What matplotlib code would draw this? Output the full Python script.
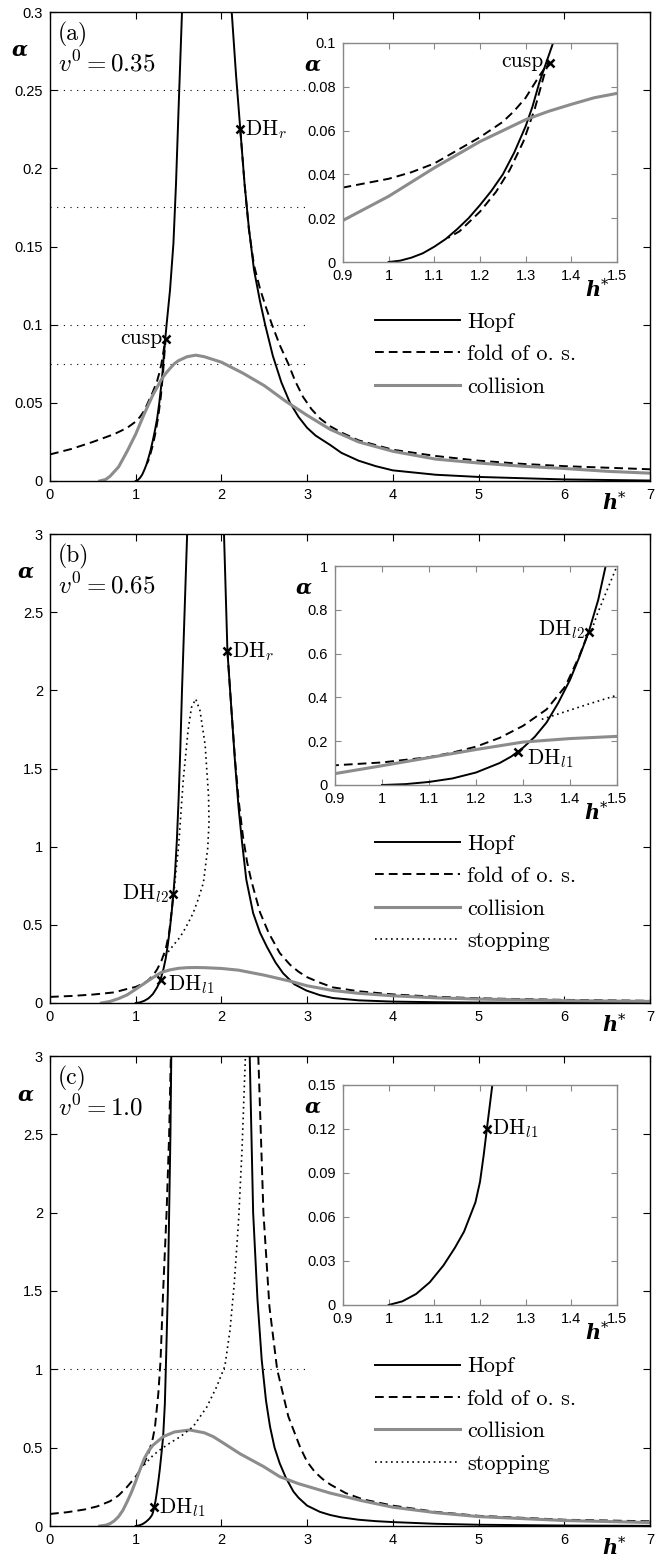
import matplotlib
matplotlib.use('Agg')
import matplotlib.pyplot as plt

plt.rcParams['font.family'] = 'Liberation Sans'
plt.rcParams['mathtext.fontset'] = 'cm'
plt.rcParams['axes.formatter.use_mathtext'] = True

W, H = 661, 1559
GRAY = '#8c8c8c'
SERIF = 'cmr10'

# ---------------- panel (a), v0 = 0.35 ----------------
hopf_a_left_h = [1.0, 1.025, 1.05, 1.075, 1.1, 1.125, 1.15, 1.175, 1.2, 1.225, 1.25, 1.275, 1.3, 1.315, 1.33, 1.345, 1.36, 1.4, 1.44, 1.47, 1.5, 1.54]
hopf_a_left_al = [0.0, 0.0006, 0.002, 0.004, 0.007, 0.0105, 0.015, 0.02, 0.026, 0.0325, 0.04, 0.05, 0.062, 0.071, 0.082, 0.091, 0.1, 0.122, 0.152, 0.19, 0.238, 0.3]
hopf_a_right_h = [2.12, 2.17, 2.22, 2.27, 2.32, 2.38, 2.45, 2.51, 2.6, 2.7, 2.8, 2.9, 3.0, 3.1, 3.27, 3.4, 3.6, 3.8, 4.0, 4.5, 5.0, 6.0, 7.0]
hopf_a_right_al = [0.3, 0.26, 0.225, 0.19, 0.162, 0.135, 0.115, 0.1, 0.08, 0.063, 0.05, 0.041, 0.034, 0.029, 0.023, 0.018, 0.013, 0.0095, 0.0068, 0.004, 0.0026, 0.001, 0.0003]
fold_a_left_h = [0.0, 0.25, 0.5, 0.75, 0.9, 1.0, 1.05, 1.1, 1.15, 1.2, 1.25, 1.275, 1.3, 1.315, 1.33, 1.35,
                 1.34, 1.32, 1.295, 1.265, 1.235, 1.2, 1.175, 1.155, 1.13]
fold_a_left_al = [0.017, 0.0205, 0.025, 0.03, 0.034, 0.038, 0.041, 0.045, 0.051, 0.057, 0.064, 0.069, 0.075, 0.08, 0.085, 0.091,
                  0.085, 0.07, 0.055, 0.042, 0.032, 0.023, 0.018, 0.014, 0.011]
fold_a_right_h = [2.22, 2.27, 2.32, 2.38, 2.45, 2.52, 2.59, 2.68, 2.78, 2.86, 2.95, 3.05, 3.15, 3.27, 3.4, 3.6, 3.8, 4.0, 4.5, 5.0, 5.5, 6.0, 7.0]
fold_a_right_al = [0.225, 0.19, 0.161, 0.138, 0.123, 0.111, 0.1, 0.087, 0.075, 0.064, 0.054, 0.046, 0.04, 0.035, 0.031, 0.026, 0.023, 0.02, 0.016, 0.013, 0.011, 0.0095, 0.0075]
coll_a_h = [0.58, 0.65, 0.7, 0.8, 0.9, 0.95, 1.0, 1.05, 1.1, 1.15, 1.2, 1.25, 1.3, 1.35, 1.4, 1.45, 1.5, 1.6, 1.7, 1.8, 2.0, 2.25, 2.5, 2.75, 3.0, 3.27, 3.6, 4.0, 4.5, 5.0, 5.5, 6.0, 6.5, 7.0]
coll_a_al = [0.0, 0.001, 0.003, 0.009, 0.019, 0.0245, 0.03, 0.0365, 0.043, 0.049, 0.055, 0.06, 0.065, 0.0688, 0.072, 0.075, 0.077, 0.0795, 0.0805, 0.0795, 0.076, 0.069, 0.061, 0.051, 0.042, 0.033, 0.025, 0.019, 0.014, 0.0115, 0.0095, 0.008, 0.0062, 0.005]
guides_a = [0.25, 0.175, 0.1, 0.075]
marks_a = [(1.35, 0.091, 'cusp'), (2.22, 0.225, r'$\mathrm{DH}_r$')]
inset_marks_a = [(1.353, 0.091, 'cusp')]

# ---------------- panel (b), v0 = 0.65 ----------------
hopf_b_left_h = [1.0, 1.05, 1.1, 1.15, 1.2, 1.25, 1.275, 1.3, 1.325, 1.35, 1.375, 1.4, 1.42, 1.44, 1.46, 1.48, 1.5, 1.52, 1.54, 1.57, 1.6]
hopf_b_left_al = [0.0, 0.004, 0.014, 0.03, 0.057, 0.1, 0.13, 0.17, 0.22, 0.285, 0.375, 0.48, 0.585, 0.7, 0.845, 1.04, 1.3, 1.62, 2.0, 2.5, 3.0]
hopf_b_right_h = [2.03, 2.07, 2.12, 2.16, 2.2, 2.24, 2.29, 2.37, 2.45, 2.53, 2.63, 2.72, 2.85, 2.99, 3.15, 3.3, 3.6, 4.0, 4.5, 5.0, 6.0, 7.0]
hopf_b_right_al = [3.0, 2.25, 1.85, 1.53, 1.25, 1.03, 0.79, 0.575, 0.45, 0.36, 0.26, 0.19, 0.12, 0.08, 0.05, 0.032, 0.017, 0.009, 0.005, 0.003, 0.001, 0.0]
fold_b_left_h = [0.0, 0.25, 0.5, 0.75, 0.9, 1.0, 1.1, 1.15, 1.2, 1.25, 1.3, 1.35, 1.39, 1.42, 1.44]
fold_b_left_al = [0.039, 0.045, 0.054, 0.068, 0.09, 0.103, 0.127, 0.148, 0.175, 0.215, 0.27, 0.345, 0.45, 0.59, 0.7]
fold_b_right_h = [2.07, 2.12, 2.16, 2.2, 2.25, 2.3, 2.35, 2.45, 2.55, 2.68, 2.8, 2.9, 3.0, 3.15, 3.3, 3.6, 4.0, 4.5, 5.0, 6.0, 7.0]
fold_b_right_al = [2.25, 1.85, 1.55, 1.3, 1.07, 0.9, 0.78, 0.58, 0.45, 0.32, 0.245, 0.2, 0.165, 0.13, 0.1, 0.075, 0.055, 0.04, 0.03, 0.02, 0.014]
coll_b_h = [0.6, 0.7, 0.8, 0.9, 1.0, 1.1, 1.2, 1.3, 1.4, 1.5, 1.6, 1.7, 1.8, 2.0, 2.2, 2.5, 2.8, 3.0, 3.3, 3.6, 4.0, 4.5, 5.0, 6.0, 7.0]
coll_b_al = [0.0, 0.01, 0.028, 0.052, 0.088, 0.125, 0.162, 0.196, 0.212, 0.222, 0.226, 0.227, 0.226, 0.221, 0.21, 0.178, 0.14, 0.11, 0.08, 0.062, 0.046, 0.033, 0.025, 0.015, 0.01]
stop_b_h = [1.34, 1.44, 1.5, 1.55, 1.61, 1.67, 1.73, 1.79, 1.84, 1.855, 1.85, 1.81, 1.75, 1.7, 1.65, 1.61, 1.555, 1.5, 1.475, 1.458, 1.445]
stop_b_al = [0.3, 0.37, 0.41, 0.45, 0.51, 0.575, 0.665, 0.77, 0.99, 1.15, 1.32, 1.65, 1.87, 1.945, 1.89, 1.74, 1.43, 1.0, 0.87, 0.78, 0.7]
marks_b = [(2.07, 2.25, r'$\mathrm{DH}_r$'), (1.44, 0.7, r'$\mathrm{DH}_{l2}$'), (1.3, 0.15, r'$\mathrm{DH}_{l1}$')]
inset_marks_b = [(1.44, 0.7, r'$\mathrm{DH}_{l2}$'), (1.29, 0.15, r'$\mathrm{DH}_{l1}$')]

# ---------------- panel (c), v0 = 1.0 ----------------
hopf_c_left_h = [1.0, 1.03, 1.06, 1.09, 1.12, 1.145, 1.165, 1.18, 1.19, 1.2, 1.208, 1.215, 1.223, 1.231, 1.245, 1.265, 1.28, 1.3, 1.32, 1.34, 1.354, 1.375, 1.39, 1.405, 1.415]
hopf_c_left_al = [0.0, 0.0025, 0.0075, 0.0155, 0.027, 0.039, 0.05, 0.062, 0.07, 0.084, 0.102, 0.12, 0.14, 0.16, 0.21, 0.29, 0.357, 0.46, 0.57, 0.78, 1.06, 1.5, 2.0, 2.5, 3.0]
hopf_c_right_h = [2.33, 2.37, 2.42, 2.47, 2.52, 2.567, 2.62, 2.68, 2.75, 2.84, 2.9, 3.0, 3.15, 3.27, 3.4, 3.6, 3.8, 4.0, 4.5, 5.0, 6.0, 7.0]
hopf_c_right_al = [3.0, 2.0, 1.45, 1.06, 0.8, 0.634, 0.5, 0.4, 0.31, 0.22, 0.18, 0.13, 0.09, 0.07, 0.055, 0.04, 0.031, 0.025, 0.014, 0.008, 0.003, 0.001]
fold_c_left_h = [0.0, 0.2, 0.4, 0.55, 0.7, 0.8, 0.9, 1.0, 1.08, 1.15, 1.2, 1.225, 1.264, 1.29, 1.32, 1.36, 1.39, 1.41]
fold_c_left_al = [0.077, 0.088, 0.105, 0.125, 0.158, 0.195, 0.25, 0.315, 0.38, 0.464, 0.56, 0.634, 0.847, 1.06, 1.5, 2.0, 2.5, 3.0]
fold_c_right_h = [2.43, 2.49, 2.56, 2.65, 2.78, 2.92, 3.0, 3.09, 3.18, 3.27, 3.45, 3.65, 4.0, 4.5, 5.0, 6.0, 7.0]
fold_c_right_al = [3.0, 2.0, 1.4, 1.0, 0.7, 0.5, 0.41, 0.345, 0.3, 0.265, 0.21, 0.17, 0.13, 0.09, 0.065, 0.04, 0.03]
coll_c_h = [0.58, 0.65, 0.7, 0.75, 0.8, 0.85, 0.9, 0.95, 1.0, 1.05, 1.1, 1.15, 1.2, 1.32, 1.45, 1.63, 1.8, 1.906, 2.05, 2.22, 2.49, 2.68, 2.9, 3.27, 3.65, 4.0, 4.5, 5.0, 6.0, 7.0]
coll_c_al = [0.0, 0.005, 0.015, 0.033, 0.06, 0.1, 0.155, 0.215, 0.285, 0.36, 0.43, 0.48, 0.515, 0.57, 0.6, 0.613, 0.595, 0.57, 0.52, 0.46, 0.38, 0.315, 0.27, 0.21, 0.16, 0.12, 0.085, 0.06, 0.035, 0.022]
stop_c_h = [1.1, 1.2, 1.28, 1.4, 1.52, 1.67, 1.83, 1.945, 2.04, 2.1, 2.15, 2.2, 2.24, 2.28]
stop_c_al = [0.39, 0.45, 0.485, 0.53, 0.57, 0.634, 0.76, 0.89, 1.02, 1.25, 1.55, 1.95, 2.4, 3.0]
guides_c = [1.0]
marks_c = [(1.215, 0.12, r'$\mathrm{DH}_{l1}$')]
inset_marks_c = [(1.215, 0.12, r'$\mathrm{DH}_{l1}$')]

# ---------------- ticks ----------------
main_xticks = [0, 1, 2, 3, 4, 5, 6, 7]
main_xlabels = ['0', '1', '2', '3', '4', '5', '6', '7']
yticks_a = [0, 0.05, 0.1, 0.15, 0.2, 0.25, 0.3]
ylabels_a = ['0', '0.05', '0.1', '0.15', '0.2', '0.25', '0.3']
yticks_bc = [0, 0.5, 1, 1.5, 2, 2.5, 3]
ylabels_bc = ['0', '0.5', '1', '1.5', '2', '2.5', '3']
inset_xticks = [0.9, 1.0, 1.1, 1.2, 1.3, 1.4, 1.5]
inset_xlabels = ['0.9', '1', '1.1', '1.2', '1.3', '1.4', '1.5']
inset_yticks_a = [0, 0.02, 0.04, 0.06, 0.08, 0.1]
inset_ylabels_a = ['0', '0.02', '0.04', '0.06', '0.08', '0.1']
inset_yticks_b = [0, 0.2, 0.4, 0.6, 0.8, 1.0]
inset_ylabels_b = ['0', '0.2', '0.4', '0.6', '0.8', '1']
inset_yticks_c = [0, 0.03, 0.06, 0.09, 0.12, 0.15]
inset_ylabels_c = ['0', '0.03', '0.06', '0.09', '0.12', '0.15']


def px_rect(left, top, right, bottom):
    return [left / W, 1 - bottom / H, (right - left) / W, (bottom - top) / H]


def style(ax, spine_color, tick_len):
    ax.tick_params(direction='in', top=True, right=True, length=tick_len, width=0.8,
                   color=spine_color, labelsize=10.5, pad=5)
    for s in ax.spines.values():
        s.set_color(spine_color)
        s.set_linewidth(1.0)


def draw_curves(ax, p):
    hl = []
    for i, (h, a) in enumerate(p['hopf']):
        ln, = ax.plot(h, a, color='k', lw=1.4)
        if i == 0:
            hl.append(ln)
    for i, (h, a) in enumerate(p['fold']):
        ln, = ax.plot(h, a, color='k', lw=1.4, dashes=(4.5, 2.6))
        if i == 0:
            hl.append(ln)
    ln, = ax.plot(p['coll'][0], p['coll'][1], color=GRAY, lw=2.2)
    hl.append(ln)
    if p['stop'] is not None:
        ln, = ax.plot(p['stop'][0], p['stop'][1], color='k', lw=1.2, dashes=(1, 2.2))
        hl.append(ln)
    return hl


def put_marks(ax, marks, offsets):
    for (h, a, txt), (ha, dx, dy) in zip(marks, offsets):
        ax.plot([h], [a], marker='x', color='k', ms=6, mew=1.8, ls='none', zorder=5)
        kw = dict(fontsize=15.5)
        if not txt.startswith('$'):
            kw['family'] = SERIF
        ax.annotate(txt, (h, a), xytext=(dx, dy), textcoords='offset points',
                    ha=ha, va='center', **kw)


panels = [
    dict(rect=(50, 12, 650, 481), inset=(343, 43, 617, 262), ylim=(0, 0.3),
         yticks=yticks_a, ylabels=ylabels_a, alx=-0.05,
         hopf=[(hopf_a_left_h, hopf_a_left_al), (hopf_a_right_h, hopf_a_right_al)],
         fold=[(fold_a_left_h, fold_a_left_al), (fold_a_right_h, fold_a_right_al)],
         coll=(coll_a_h, coll_a_al), stop=None, guides=guides_a,
         marks=marks_a, moff=[('right', -2.5, 0), ('left', 3.5, 0)],
         imarks=inset_marks_a, imoff=[('right', -4.5, 1)],
         iylim=(0, 0.1), iyticks=inset_yticks_a, iylabels=inset_ylabels_a,
         tag='(a)', v0=r'$v^0 = 0.35$',
         labels=['Hopf', 'fold of o. s.', 'collision']),
    dict(rect=(50, 534, 650, 1003), inset=(335, 566, 617, 785), ylim=(0, 3),
         yticks=yticks_bc, ylabels=ylabels_bc, alx=-0.04,
         hopf=[(hopf_b_left_h, hopf_b_left_al), (hopf_b_right_h, hopf_b_right_al)],
         fold=[(fold_b_left_h, fold_b_left_al), (fold_b_right_h, fold_b_right_al)],
         coll=(coll_b_h, coll_b_al), stop=(stop_b_h, stop_b_al), guides=[],
         marks=marks_b, moff=[('left', 3.5, 0), ('right', -3.5, 0), ('left', 5, -4)],
         imarks=inset_marks_b, imoff=[('right', -3, 1.5), ('left', 6, -5)],
         iylim=(0, 1), iyticks=inset_yticks_b, iylabels=inset_ylabels_b,
         tag='(b)', v0=r'$v^0 = 0.65$',
         labels=['Hopf', 'fold of o. s.', 'collision', 'stopping']),
    dict(rect=(50, 1056, 650, 1526), inset=(343, 1085, 617, 1305), ylim=(0, 3),
         yticks=yticks_bc, ylabels=ylabels_bc, alx=-0.04,
         hopf=[(hopf_c_left_h, hopf_c_left_al), (hopf_c_right_h, hopf_c_right_al)],
         fold=[(fold_c_left_h, fold_c_left_al), (fold_c_right_h, fold_c_right_al)],
         coll=(coll_c_h, coll_c_al), stop=(stop_c_h, stop_c_al), guides=guides_c,
         marks=marks_c, moff=[('left', 3.5, 0)],
         imarks=inset_marks_c, imoff=[('left', 3.5, 0)],
         iylim=(0, 0.15), iyticks=inset_yticks_c, iylabels=inset_ylabels_c,
         tag='(c)', v0=r'$v^0 = 1.0$',
         labels=['Hopf', 'fold of o. s.', 'collision', 'stopping']),
]

fig = plt.figure(figsize=(W / 100, H / 100), dpi=100)

for p in panels:
    ax = fig.add_axes(px_rect(*p['rect']))
    for g in p['guides']:
        ax.plot([0, 3], [g, g], color='k', lw=0.8, dashes=(1, 5))
    handles = draw_curves(ax, p)
    put_marks(ax, p['marks'], p['moff'])
    ax.set_xlim(0, 7)
    ax.set_ylim(*p['ylim'])
    ax.set_xticks(main_xticks, labels=main_xlabels)
    ax.set_yticks(p['yticks'], labels=p['ylabels'])
    style(ax, 'k', 5)
    ax.text(0.013, 0.953, p['tag'], transform=ax.transAxes, family=SERIF, fontsize=17,
            ha='left', va='center')
    ax.text(0.013, 0.89, p['v0'], transform=ax.transAxes, fontsize=18, ha='left', va='center')
    ax.text(p['alx'], 0.918, r'$\mathbfit{\alpha}$', transform=ax.transAxes, fontsize=15,
            math_fontfamily='dejavuserif', ha='center', va='center')
    ax.text(0.94, -0.047, r'$\mathbfit{h}^{*}$', transform=ax.transAxes, fontsize=15,
            math_fontfamily='dejavuserif', ha='center', va='center')
    ax.legend(handles, p['labels'], loc='upper left', bbox_to_anchor=(0.542, 0.36),
              frameon=False, prop={'family': SERIF, 'size': 16}, handlelength=3.8,
              handletextpad=0.35, labelspacing=0.58, borderpad=0, borderaxespad=0)

    ins = fig.add_axes(px_rect(*p['inset']))
    ins.set_facecolor('white')
    draw_curves(ins, p)
    put_marks(ins, p['imarks'], p['imoff'])
    ins.set_xlim(0.9, 1.5)
    ins.set_ylim(*p['iylim'])
    ins.set_xticks(inset_xticks, labels=inset_xlabels)
    ins.set_yticks(p['iyticks'], labels=p['iylabels'])
    style(ins, '#888888', 4)
    ins.text(-0.11, 0.9, r'$\mathbfit{\alpha}$', transform=ins.transAxes, fontsize=15,
             math_fontfamily='dejavuserif', ha='center', va='center')
    ins.text(0.927, -0.128, r'$\mathbfit{h}^{*}$', transform=ins.transAxes, fontsize=15,
             math_fontfamily='dejavuserif', ha='center', va='center')

fig.savefig('out.png', dpi=100)
